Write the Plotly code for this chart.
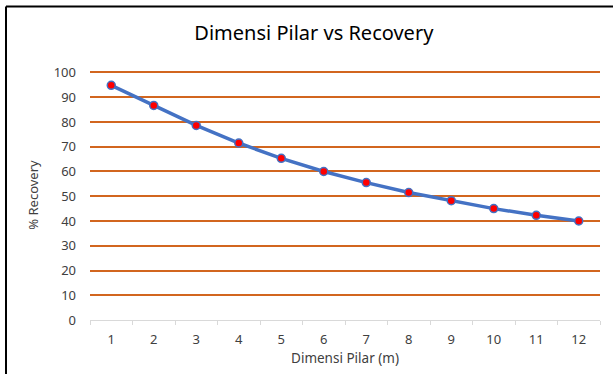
import plotly.graph_objects as go

# Pillar dimension (m) vs recovery (%)
dimensi = ["1", "2", "3", "4", "5", "6", "7", "8", "9", "10", "11", "12"]
recovery = [94.8, 86.7, 78.6, 71.5, 65.3, 60.0, 55.5, 51.5, 48.2, 45.0, 42.3, 40.0]
y_ticks = [0, 10, 20, 30, 40, 50, 60, 70, 80, 90, 100]

W, H = 613, 374
L, R, T, B = 90, 13, 70, 54
Y_MAX = 101.0

fig = go.Figure()
fig.add_trace(go.Scatter(
    x=dimensi, y=recovery, mode="lines+markers",
    line=dict(color="#4472C4", width=3.5),
    marker=dict(color="#FF0000", size=8, line=dict(color="#4472C4", width=1.5)),
    showlegend=False,
))

font = "Noto Sans"
label_color = "#404040"
pw, ph = W - L - R, H - T - B
fig.update_layout(
    width=W, height=H,
    margin=dict(l=L, r=R, t=T, b=B),
    paper_bgcolor="white", plot_bgcolor="white",
    title=dict(text="Dimensi Pilar vs Recovery", x=0.512, xanchor="center",
               y=1 - 33 / H, yanchor="middle",
               font=dict(family=font, size=20, color="#000000")),
    xaxis=dict(type="category", categoryorder="array", categoryarray=dimensi,
               showgrid=False, showline=True, linecolor="#D9D9D9", linewidth=1,
               ticks="outside", tickson="boundaries", ticklen=4, tickcolor="#D9D9D9",
               ticklabelstandoff=7,
               tickfont=dict(family=font, size=13, color=label_color),
               title=dict(text="Dimensi Pilar (m)", standoff=6,
                          font=dict(family=font, size=13.5, color=label_color)),
               zeroline=False, range=[-0.5, 11.5]),
    yaxis=dict(range=[0, Y_MAX], tickvals=y_ticks, showgrid=True,
               gridcolor="#D2661F", gridwidth=1.8, zeroline=False,
               showline=False, ticks="", ticklabelstandoff=13,
               tickfont=dict(family=font, size=13, color=label_color),
               title=dict(text="% Recovery", standoff=12,
                          font=dict(family=font, size=13, color=label_color))),
)

# chart frame: top and left edges, placed in pixel terms
fx0 = (6 - L) / pw
fx1 = (W + 10 - L) / pw
fy_top = (H - 6.5 - B) / ph
fy_bot = (-20 - B) / ph
fig.add_shape(type="line", xref="paper", yref="paper", layer="above",
              x0=fx0, x1=fx1, y0=fy_top, y1=fy_top,
              line=dict(color="#000000", width=2))
fig.add_shape(type="line", xref="paper", yref="paper", layer="above",
              x0=fx0, x1=fx0, y0=fy_bot, y1=fy_top,
              line=dict(color="#000000", width=2))

fig.write_html("out.html")
